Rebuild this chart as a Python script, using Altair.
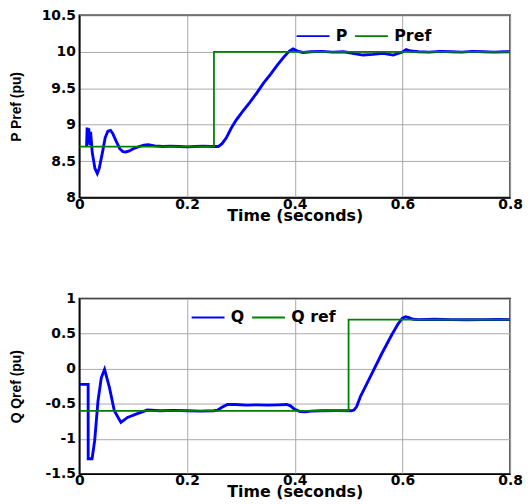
import altair as alt
import pandas as pd

# ---- top panel data: active power P and reference Pref (pu) ----
p_t = [0.0135, 0.0145, 0.016, 0.0175, 0.0195, 0.021, 0.024, 0.029, 0.0334, 0.037, 0.043,
       0.048, 0.053, 0.058, 0.062, 0.068, 0.075, 0.081, 0.086, 0.093, 0.100, 0.111,
       0.120, 0.128, 0.140, 0.155, 0.170, 0.185, 0.200, 0.215, 0.230, 0.245, 0.252,
       0.258, 0.265, 0.273, 0.282, 0.291, 0.303, 0.317, 0.330, 0.342, 0.355, 0.368,
       0.380, 0.390, 0.397, 0.405, 0.415, 0.430, 0.450, 0.470, 0.490, 0.500, 0.510,
       0.527, 0.545, 0.564, 0.575, 0.583, 0.595, 0.601, 0.607, 0.615, 0.630, 0.650,
       0.670, 0.690, 0.710, 0.730, 0.750, 0.770, 0.790, 0.800]
p_v = [8.70, 8.96, 8.75, 8.95, 8.72, 8.90, 8.62, 8.40, 8.33, 8.40, 8.62,
       8.82, 8.91, 8.92, 8.88, 8.78, 8.67, 8.63, 8.625, 8.64, 8.67, 8.70,
       8.72, 8.725, 8.71, 8.70, 8.705, 8.70, 8.695, 8.70, 8.705, 8.70, 8.70,
       8.70, 8.74, 8.82, 8.95, 9.06, 9.18, 9.31, 9.44, 9.57, 9.69, 9.82,
       9.93, 10.01, 10.04, 10.01, 9.99, 10.00, 10.005, 9.995, 10.00, 9.99, 9.975,
       9.955, 9.965, 9.98, 9.965, 9.955, 9.985, 10.00, 10.03, 10.01, 10.00, 9.995,
       10.005, 10.00, 9.995, 10.005, 10.00, 9.995, 10.00, 10.00]
pref_t = [0.0, 0.25, 0.25, 0.8]
pref_v = [8.7, 8.7, 10.0, 10.0]

# ---- bottom panel data: reactive power Q and reference Q ref (pu) ----
q_t = [0.0, 0.0164, 0.0165, 0.0237, 0.0286, 0.0347, 0.0408, 0.0469, 0.056, 0.065,
       0.0773, 0.0895, 0.1078, 0.126, 0.150, 0.175, 0.200, 0.225, 0.250, 0.257,
       0.265, 0.275, 0.290, 0.310, 0.330, 0.350, 0.370, 0.385, 0.392, 0.400,
       0.410, 0.420, 0.430, 0.450, 0.480, 0.505, 0.510, 0.515, 0.5224, 0.540,
       0.562, 0.580, 0.592, 0.600, 0.606, 0.612, 0.620, 0.630, 0.660, 0.690,
       0.720, 0.750, 0.780, 0.800]
q_v = [-0.224, -0.224, -1.284, -1.284, -1.02, -0.46, -0.13, -0.01, -0.27, -0.60,
       -0.765, -0.695, -0.64, -0.59, -0.60, -0.595, -0.60, -0.605, -0.60, -0.59,
       -0.55, -0.51, -0.51, -0.52, -0.515, -0.52, -0.515, -0.51, -0.53, -0.58,
       -0.61, -0.615, -0.605, -0.60, -0.598, -0.60, -0.59, -0.54, -0.39, -0.12,
       0.22, 0.48, 0.64, 0.72, 0.74, 0.73, 0.705, 0.70, 0.705, 0.70,
       0.698, 0.70, 0.702, 0.70]
qref_t = [0.0, 0.5, 0.5, 0.8]
qref_v = [-0.6, -0.6, 0.7, 0.7]

x_ticks = [0, 0.2, 0.4, 0.6, 0.8]
p_ticks = [8, 8.5, 9, 9.5, 10, 10.5]
q_ticks = [-1.5, -1, -0.5, 0, 0.5, 1]

TICK_FONT = "DejaVu Sans"
BLUE = "#0000ff"
GREEN = "#008000"


def frame(tv, vv, name):
    return pd.DataFrame({"t": tv, "v": vv, "series": name, "i": range(len(tv))})


def axis(values, title, is_x, tpad=14):
    kw = dict(values=values, grid=True, gridColor="#a8a8a8", gridWidth=1,
              domainColor="black", domainWidth=1.5, tickSize=0,
              labelFont=TICK_FONT, labelFontWeight="bold", labelFontSize=14,
              labelColor="black", labelFlush=False, labelOverlap=False,
              labelExpr="'' + datum.value", title=title, titleColor="black",
              titleFontWeight="bold")
    if is_x:
        kw.update(labelPadding=0, titleFont=TICK_FONT, titleFontSize=16, titlePadding=-4)
    else:
        kw.update(labelPadding=4, titleFont="Liberation Sans", titleFontSize=14,
                  titlePadding=tpad)
    return alt.Axis(**kw)


def panel(main_df, ref_df, names, ydom, yticks, ytitle, w, h, lx, ly, tpad):
    color = alt.Color("series:N",
                      scale=alt.Scale(domain=names, range=[BLUE, GREEN]),
                      legend=alt.Legend(title=None, orient="none", legendX=lx, legendY=ly,
                                        direction="horizontal", symbolType="stroke",
                                        symbolSize=1100, symbolStrokeWidth=2,
                                        labelFont=TICK_FONT, labelFontWeight="bold",
                                        labelFontSize=16, labelColor="black",
                                        labelOffset=5, columnPadding=3, padding=0,
                                        gridAlign="none"))
    x = alt.X("t:Q", scale=alt.Scale(domain=[0, 0.8], nice=False),
              axis=axis(x_ticks, "Time (seconds)", True))
    y = alt.Y("v:Q", scale=alt.Scale(domain=ydom, nice=False, zero=False),
              axis=axis(yticks, ytitle, False, tpad))
    main = alt.Chart(main_df).mark_line(strokeWidth=2.9, clip=True).encode(
        x=x, y=y, color=color, order="i:Q")
    ref = alt.Chart(ref_df).mark_line(strokeWidth=1.8, clip=True).encode(
        x=x, y=y, color=color, order="i:Q")
    return alt.layer(main, ref).properties(width=w, height=h)


top = panel(frame(p_t, p_v, "P"), frame(pref_t, pref_v, "Pref"), ["P", "Pref"],
            [8, 10.5], p_ticks, "P Pref (pu)", 435, 184, 218, 3, 18)
bottom = panel(frame(q_t, q_v, "Q"), frame(qref_t, qref_v, "Q ref"), ["Q", "Q ref"],
               [-1.5, 1], q_ticks, "Q Qref (pu)", 435, 177, 112, 1, 22)

chart = alt.concat(top, bottom, columns=1, spacing=67).properties(
    align="none",
    padding={"left": 0, "top": -3, "right": 0, "bottom": 0},
    background="white",
).resolve_scale(color="independent").configure_view(
    stroke="black", strokeWidth=1.5
)

chart.save("out.html", embed_options={"renderer": "svg", "actions": False})
